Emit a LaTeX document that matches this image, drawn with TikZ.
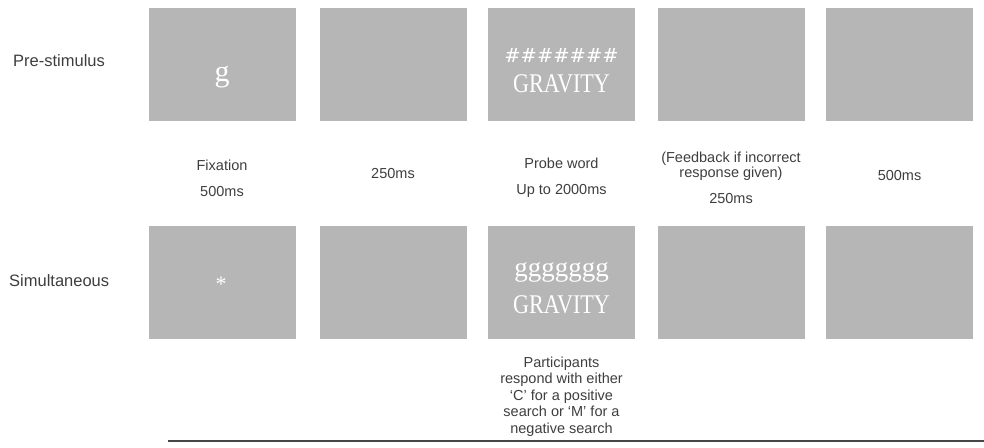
\documentclass[tikz,border=0pt]{standalone}
\usepackage{fontspec}
\setmainfont{Liberation Sans}
\newfontfamily\stimserif{Liberation Serif}
\newfontfamily\hashfont{DejaVu Serif}
\definecolor{stimgray}{RGB}{182,182,182}
\definecolor{labelgray}{RGB}{62,62,62}
\definecolor{rulegray}{RGB}{70,70,70}
\tikzset{
  stim/.style={rectangle, fill=stimgray, draw=none, minimum width=147pt, minimum height=113pt, inner sep=0pt},
  rowlabel/.style={anchor=west, inner sep=0pt, text=labelgray, font=\fontsize{16.5}{19}\selectfont},
  caption/.style={align=center, inner sep=0pt, text=labelgray, font=\fontsize{14.5}{17}\selectfont},
  stimtext/.style={inner sep=0pt, text=white, anchor=base},
}
\begin{document}
\begin{tikzpicture}[x=1pt,y=-1pt]
\useasboundingbox (0,0) rectangle (984,447);
% row labels
\node[rowlabel] (pre) at (13,61) {Pre-stimulus};
\node[rowlabel] (sim) at (9,281) {Simultaneous};
% top row
\node[stim] (t1) at (222,64.5) {};
\node[stim] (t2) at (393,64.5) {};
\node[stim] (t3) at (561.5,64.5) {};
\node[stim] (t4) at (731,64.5) {};
\node[stim] (t5) at (899.5,64.5) {};
% bottom row
\node[stim] (b1) at (222,282.5) {};
\node[stim] (b2) at (393,282.5) {};
\node[stim] (b3) at (561.5,282.5) {};
\node[stim] (b4) at (731,282.5) {};
\node[stim] (b5) at (899.5,282.5) {};
% stimulus texts
\node[stimtext, font=\stimserif\fontsize{30}{30}\selectfont] (gfix) at (222,81.5) {g};
\node[stimtext, font=\hashfont\fontsize{19.5}{20}\selectfont] (hash) at (561.5,62) {\#\#\#\#\#\#\#};
\node[stimtext, font=\stimserif\fontsize{27}{27}\selectfont] (grav1) at (561.5,92) {\scalebox{0.82}[1]{GRAVITY}};
\node[stimtext, font=\stimserif\fontsize{22}{22}\selectfont] (star) at (221,291) {*};
\node[stimtext, font=\stimserif\fontsize{27}{27}\selectfont] (gggg) at (561.5,276) {ggggggg};
\node[stimtext, font=\stimserif\fontsize{27}{27}\selectfont] (grav2) at (561.5,313) {\scalebox{0.82}[1]{GRAVITY}};
% captions
\node[caption] (c1) at (222,178) {Fixation\\[9pt]500ms};
\node[caption] (c2) at (393,174) {250ms};
\node[caption] (c3) at (561.5,178) {Probe word\\[9pt]Up to 2000ms};
\node[caption] (c4) at (731,178) {(Feedback if incorrect\\[-2pt]response given)\\[9pt]250ms};
\node[caption] (c5) at (899.5,176) {500ms};
\node[caption, font=\fontsize{14.5}{16.5}\selectfont] (resp) at (561.5,396.5) {Participants\\respond with either\\`C' for a positive\\search or `M' for a\\negative search};
% rule
\coordinate (ruleL) at (168,441);
\coordinate (ruleR) at (984,441);
\draw[rulegray, line width=2pt] (ruleL) -- (ruleR);
\end{tikzpicture}
\end{document}
